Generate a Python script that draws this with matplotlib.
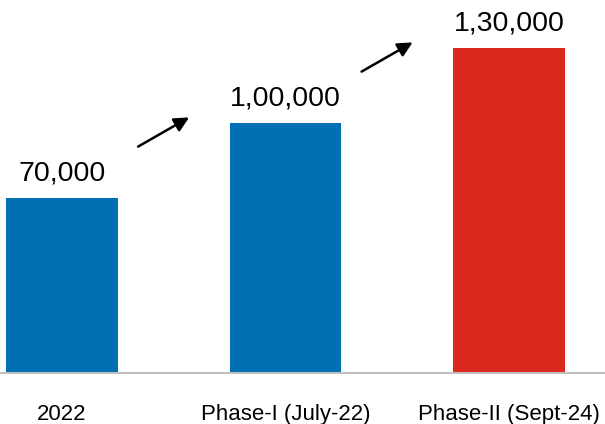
import matplotlib
matplotlib.use("Agg")
import matplotlib.pyplot as plt

# data
categories = ["2022", "Phase-I (July-22)", "Phase-II (Sept-24)"]
values = [70000, 100000, 130000]
value_labels = ["70,000", "1,00,000", "1,30,000"]
colors = ["#0070B5", "#0070B5", "#DC281E"]

plt.rcParams["font.family"] = ["Liberation Sans", "DejaVu Sans"]

fig = plt.figure(figsize=(6.05, 4.24), dpi=100)
ax = fig.add_axes([0, 51 / 424, 1, 373 / 424])

x = list(range(len(categories)))
ax.bar(x, values, width=0.5, color=colors)

for i, v in enumerate(values):
    ax.annotate(value_labels[i], (i, v), xytext=(0, 8.5), textcoords="offset points",
                ha="center", va="bottom", fontsize=20.5, color="black")

# arrows between bars
for i in range(len(values) - 1):
    ax.annotate("", xy=(i + 0.58, values[i] + 32800), xytext=(i + 0.33, values[i] + 20000),
                arrowprops=dict(arrowstyle="-|>", color="black", lw=1.8, mutation_scale=22))

ax.set_xlim(-0.277, 2.43)
ax.set_ylim(0, 149200)
ax.set_xticks(x)
ax.set_xticklabels(categories, fontsize=16)
ax.tick_params(axis="x", length=0, pad=22)
ax.set_yticks([])
for s in ["top", "right", "left"]:
    ax.spines[s].set_visible(False)
ax.spines["bottom"].set_color("#BFBFBF")
ax.spines["bottom"].set_linewidth(1.5)

fig.savefig("out.png", dpi=100)
